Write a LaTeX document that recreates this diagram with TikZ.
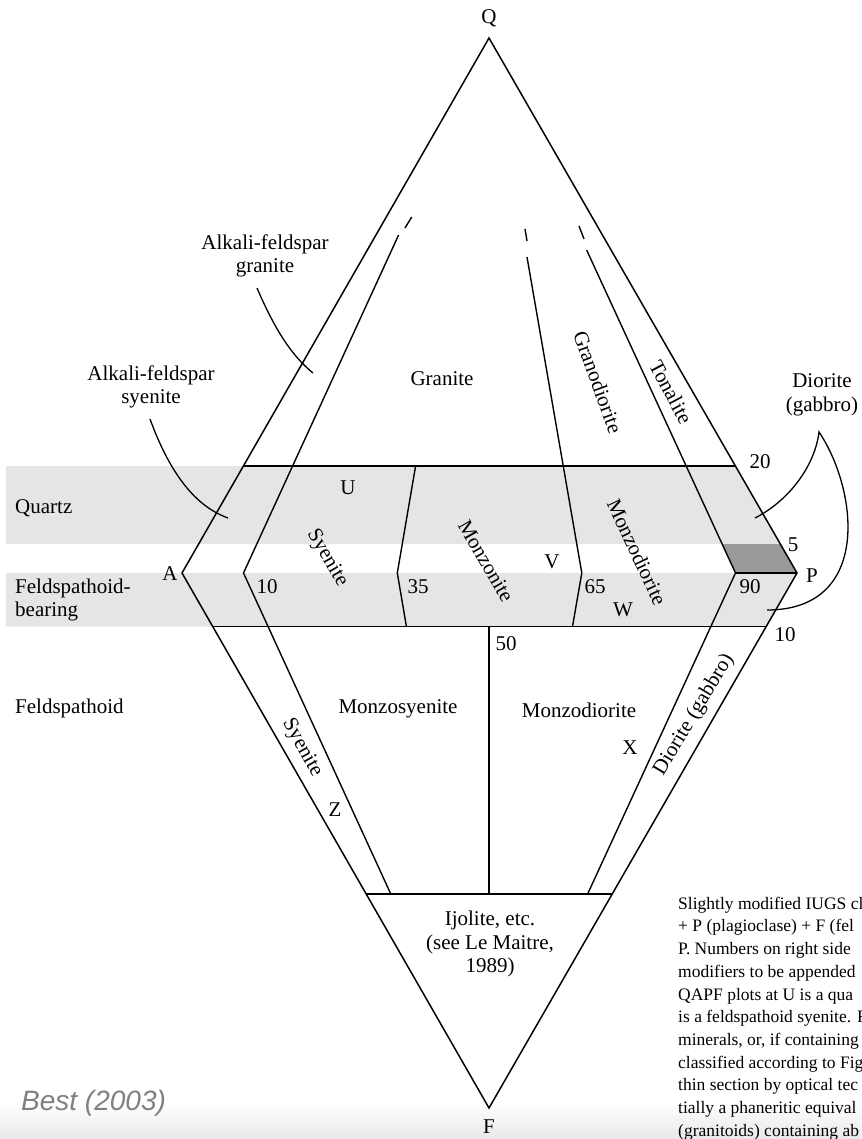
\documentclass[tikz,border=0pt]{standalone}
\usepackage{fontspec}
\setmainfont{Liberation Serif}
\setsansfont{Liberation Sans}
\definecolor{bandgray}{gray}{0.9}
\definecolor{cellgray}{gray}{0.6}

\begin{document}
\begin{tikzpicture}[x=1pt,y=-1pt,
    lbl/.style={font=\fontsize{21}{23.5}\selectfont, inner sep=0pt, align=center},
    captxt/.style={font=\fontsize{17.5}{22.7}\selectfont, inner sep=0pt, align=left, anchor=west}]
            \useasboundingbox (0,0) rectangle (861,1139);
            \shade[top color=white, bottom color=black!9] (0,1102) rectangle (861,1139);

            % corners and ticks
            \coordinate (Q) at (489,38);
            \coordinate (A) at (182,573);
            \coordinate (P) at (797,573);
            \coordinate (F) at (489,1108);
            \coordinate (q20l) at (243.4,466);
            \coordinate (q20r) at (735.4,466);
            \coordinate (f10l) at (212.7,626.5);
            \coordinate (f10r) at (766.2,626.5);
            \coordinate (f60l) at (366.2,894);
            \coordinate (f60r) at (612.2,894);
            \coordinate (ap10) at (243.5,573);
            \coordinate (ap35) at (397.3,573);
            \coordinate (ap65) at (581.8,573);
            \coordinate (ap90) at (735.5,573);

            % bands
            \fill[bandgray] (6,466) -- (q20r) -- (780.3,544) -- (6,544) -- cycle;
            \fill[bandgray] (6,573) -- (P) -- (f10r) -- (6,626.5) -- cycle;
            \fill[cellgray] (722.1,544) -- (780.3,544) -- (P) -- (ap90) -- cycle;

            \draw[line width=1.5pt, line join=miter] (Q) -- (A) -- (F) -- (P) -- cycle;
            \draw[line width=1.4pt] (q20l) -- (q20r);
            \draw[line width=1.4pt] (f10l) -- (f10r);
            \draw[line width=1.4pt] (f60l) -- (f60r);
            \draw[line width=1.4pt] (398.6,235) -- (ap10) -- (390.8,894);
            \draw[line width=1.4pt] (415.6,466) -- (ap35) -- (406.4,626.5);
            \draw[line width=1.4pt] (527,257) -- (ap65) -- (572.5,626.5);
            \draw[line width=1.4pt] (586.6,250) -- (ap90) -- (587.6,894);
            \draw[line width=1.4pt] (489,626.5) -- (489,894);
            \draw[line width=1.6pt] (ap90) -- (P);
            \draw[line width=1.4pt] (405,228) -- (411.7,217);
            \draw[line width=1.4pt] (525,229) -- (527,241);
            \draw[line width=1.4pt] (579,226) -- (584,239);

            % corner labels
            \node[lbl] (lq) at (489,18) {Q};
            \node[lbl] (la) at (170,574) {A};
            \node[lbl] (lp) at (812,576) {P};
            \node[lbl] (lf) at (489,1127) {F};

            % numbers
            \node[lbl] (n20) at (760,462) {20};
            \node[lbl] (n5) at (793,545) {5};
            \node[lbl] (n90) at (750,587) {90};
            \node[lbl] (n10r) at (785,635) {10};
            \node[lbl] (n10) at (267,587) {10};
            \node[lbl] (n35) at (418,587) {35};
            \node[lbl] (n65) at (595,587) {65};
            \node[lbl] (n50) at (506,644) {50};

            % points
            \node[lbl] (pu) at (348,488) {U};
            \node[lbl] (pv) at (552,562) {V};
            \node[lbl] (pw) at (623,610) {W};
            \node[lbl] (px) at (630,748) {X};
            \node[lbl] (pz) at (335,810) {Z};

            % fields
            \node[lbl] (granite) at (442,379) {Granite};
            \node[lbl, rotate=-70] (granodio) at (598,382) {Granodiorite};
            \node[lbl, rotate=-62] (tonal) at (671,392) {Tonalite};
            \node[lbl, rotate=-60] (syen) at (327,558) {Syenite};
            \node[lbl, rotate=-60] (monzo) at (486,561) {Monzonite};
            \node[lbl, rotate=-65] (monzod) at (637,552) {Monzodiorite};
            \node[lbl] (monzosy2) at (398,709) {Monzosyenite};
            \node[lbl] (monzod2) at (579,710) {Monzodiorite};
            \node[lbl, rotate=-61] (syen2) at (302,748) {Syenite};
            \node[lbl, rotate=59] (dio2) at (694,715) {Diorite (gabbro)};
            \node[lbl] (ijol) at (490,944) {Ijolite, etc.\\(see Le Maitre,\\1989)};

            % side labels
            \node[lbl, anchor=west] (rowq) at (15,508) {Quartz};
            \node[lbl, anchor=west, align=left] (rowfb) at (15,600) {Feldspathoid-\\bearing};
            \node[lbl, anchor=west] (rowf) at (15,708) {Feldspathoid};

            % leaders
            \node[lbl] (afg) at (265,256) {Alkali-feldspar\\granite};
            \node[lbl] (afs) at (151,387) {Alkali-feldspar\\syenite};
            \node[lbl] (dio) at (822,395) {Diorite\\(gabbro)};
            \coordinate (afgEnd) at (313,373);
            \coordinate (afsEnd) at (228,518);
            \coordinate (dioCusp) at (819,432);
            \coordinate (dioQ) at (755,518);
            \coordinate (dioF) at (767,610);
            \draw[line width=1.3pt] (257,288) .. controls (275,330) and (292,356) .. (afgEnd);
            \draw[line width=1.3pt] (150,419) .. controls (168,468) and (192,505) .. (afsEnd);
            \draw[line width=1.3pt] (dioQ) .. controls (790,500) and (815,465) .. (dioCusp)
                .. controls (858,490) and (872,610) .. (dioF);

            \node[font=\sffamily\itshape\fontsize{28}{30}\selectfont, text=black!50, inner sep=0pt, anchor=west] (src) at (21,1103) {Best (2003)};

            \begin{scope}
            \clip (0,0) rectangle (861,1139);
            \node[captxt] (caption) at (678,1018.5) {Slightly modified IUGS cl\\
                + P (plagioclase) + F (fel\\
                P. Numbers on right side\\
                modifiers to be appended\\
                QAPF plots at U is a qua\\
                is a feldspathoid syenite. F\\
                minerals, or, if containing\\
                classified according to Fig\\
                thin section by optical tec\\
                tially a phaneritic equival\\
                (granitoids) containing ab};
            \end{scope}

        \end{tikzpicture}
\end{document}
